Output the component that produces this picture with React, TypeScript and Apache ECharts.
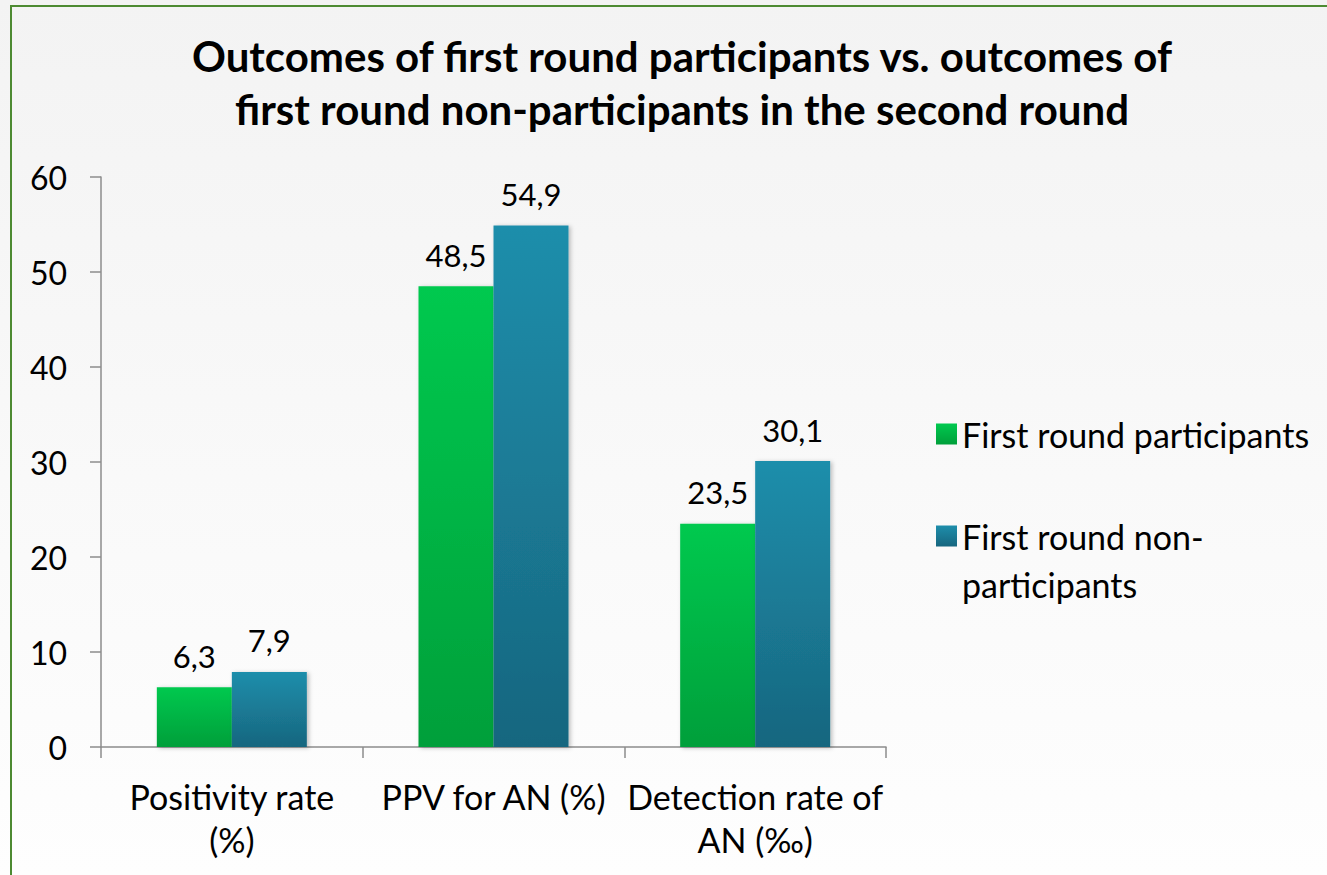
import React, { useEffect, useRef } from "react";
import * as echarts from "echarts";

const categories = ["Positivity rate\n(%)", "PPV for AN (%)", "Detection rate of\nAN (‰)"];
const seriesNames = ["First round participants", "First round non-participants"];
const participants = [6.3, 48.5, 23.5];
const nonParticipants = [7.9, 54.9, 30.1];
const yTicks = { min: 0, max: 60, interval: 10 };

const FONT = "Lato, 'Open Sans', sans-serif";

export default function App() {
  const ref = useRef<HTMLDivElement>(null);
  useEffect(() => {
    document.body.style.margin = "0";
    const chart = echarts.init(ref.current!, null, { renderer: "svg" });
    const labelFmt = (p: any) => String(p.value).replace(".", ",");
    const green = new echarts.graphic.LinearGradient(0, 0, 0, 1, [
      { offset: 0, color: "#00c94f" },
      { offset: 1, color: "#009f3a" },
    ]);
    const blue = new echarts.graphic.LinearGradient(0, 0, 0, 1, [
      { offset: 0, color: "#1e8eab" },
      { offset: 1, color: "#17667f" },
    ]);
    const label = {
      show: true,
      position: "top",
      distance: 16,
      formatter: labelFmt,
      fontFamily: FONT,
      fontSize: 31,
      color: "#000",
    };
    chart.setOption({
      animation: false,
      backgroundColor: new echarts.graphic.LinearGradient(0, 0, 0, 1, [
        { offset: 0, color: "#f3f3f3" },
        { offset: 1, color: "#fefefe" },
      ]),
      textStyle: { fontFamily: FONT },
      title: {
        text: "Outcomes of first round participants vs. outcomes of\nfirst round non-participants in the second round",
        left: 677,
        textAlign: "center",
        top: 24,
        textStyle: { fontFamily: FONT, fontSize: 42, fontWeight: "bold", color: "#000", lineHeight: 53 },
      },
      graphic: [
        {
          type: "rect",
          shape: { x: 11, y: 6, width: 1340, height: 900 },
          style: { fill: "none", stroke: "#4d8a32", lineWidth: 2 },
          silent: true,
        },
        {
          type: "text",
          x: 962,
          y: 584,
          style: { text: "participants", fontFamily: FONT, fontSize: 34, fill: "#000", verticalAlign: "middle" },
        },
      ],
      legend: {
        orient: "vertical",
        left: 931,
        top: 409,
        itemWidth: 21,
        itemHeight: 21,
        itemGap: 62,
        icon: "rect",
        formatter: (name: string) => (name === seriesNames[1] ? "First round non-" : name),
        textStyle: { fontFamily: FONT, fontSize: 34, lineHeight: 40, color: "#000", padding: [0, 0, 0, 0] },
        data: seriesNames,
      },
      grid: { left: 101, top: 177, width: 785, height: 570, containLabel: false },
      xAxis: {
        type: "category",
        data: categories,
        axisLine: { lineStyle: { color: "#8c8c8c", width: 1.5 } },
        axisTick: { show: true, length: 11, lineStyle: { color: "#8c8c8c", width: 1.5 } },
        axisLabel: { interval: 0, fontFamily: FONT, fontSize: 34, color: "#000", lineHeight: 43, margin: 28 },
      },
      yAxis: {
        type: "value",
        min: yTicks.min,
        max: yTicks.max,
        interval: yTicks.interval,
        axisLine: { show: true, lineStyle: { color: "#8c8c8c", width: 1.5 } },
        axisTick: { show: true, length: 11, lineStyle: { color: "#8c8c8c", width: 1.5 } },
        splitLine: { show: false },
        axisLabel: { fontFamily: FONT, fontSize: 32, color: "#000", margin: 34 },
      },
      series: [
        {
          name: seriesNames[0],
          type: "bar",
          data: participants,
          barWidth: 75,
          barGap: "0%",
          itemStyle: { color: green, shadowColor: "rgba(0,0,0,0.25)", shadowBlur: 4, shadowOffsetX: 2, shadowOffsetY: 1 },
          label,
        },
        {
          name: seriesNames[1],
          type: "bar",
          data: nonParticipants,
          barWidth: 75,
          barGap: "0%",
          itemStyle: { color: blue, shadowColor: "rgba(0,0,0,0.25)", shadowBlur: 4, shadowOffsetX: 2, shadowOffsetY: 1 },
          label,
        },
      ],
    });
    return () => chart.dispose();
  }, []);
  return <div ref={ref} style={{ width: 1327, height: 875 }} />;
}
